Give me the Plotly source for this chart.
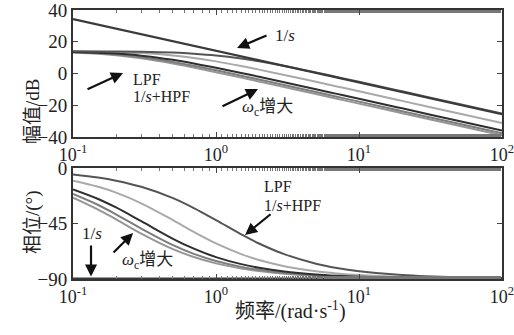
import plotly.graph_objects as go
from plotly.subplots import make_subplots

# Frequency samples (rad/s)
freq = [0.1, 0.15, 0.2, 0.3, 0.5, 0.7, 1, 1.5, 2, 3, 5, 7, 10, 20, 50, 100]

# Pure integrator 1/s
freq_int = [0.1, 1, 10, 100]
mag_int = [34.3, 14.3, -5.7, -25.7]
phase_int = [-90, -90, -90, -90]

# LPF (= 1/s + HPF) magnitude, dB, for increasing cut-off wc
mag_lpf_a = [13.94, 13.90, 13.84, 13.67, 13.16, 12.50, 11.37, 9.42, 7.64, 4.72, 0.62, -2.20, -5.24, -11.23, -19.17, -25.19]
mag_lpf_b = [13.84, 13.67, 13.44, 12.85, 11.37, 9.80, 7.64, 4.72, 2.45, -0.90, -5.24, -8.14, -11.23, -17.24, -25.19, -31.21]
mag_lpf_c = [13.58, 13.12, 12.55, 11.24, 8.61, 6.36, 3.66, 0.37, -2.05, -5.51, -9.91, -12.83, -15.92, -21.94, -29.90, -35.92]
mag_lpf_d = [13.38, 12.73, 11.96, 10.30, 7.26, 4.82, 2.00, -1.37, -3.81, -7.29, -11.71, -14.63, -17.72, -23.74, -31.70, -37.72]
mag_lpf_e = [13.20, 12.38, 11.45, 9.54, 6.24, 3.69, 0.81, -2.59, -5.05, -8.54, -12.96, -15.88, -18.98, -25.00, -32.96, -38.98]

# LPF phase, degrees
ph_lpf_a = [-5.19, -7.77, -10.30, -15.26, -24.44, -32.47, -42.27, -53.75, -61.19, -69.86, -77.59, -81.07, -83.72, -86.85, -88.74, -89.37]
ph_lpf_b = [-10.30, -15.26, -19.98, -28.61, -42.27, -51.84, -61.19, -69.86, -74.62, -79.61, -83.72, -85.51, -86.85, -88.42, -89.37, -89.68]
ph_lpf_c = [-17.35, -25.11, -32.01, -43.15, -57.38, -65.43, -72.26, -77.96, -80.91, -83.91, -86.34, -87.38, -88.17, -89.08, -89.63, -89.82]
ph_lpf_d = [-21.04, -29.98, -37.57, -49.09, -62.53, -69.62, -75.43, -80.17, -82.59, -85.05, -87.02, -87.87, -88.51, -89.26, -89.70, -89.85]
ph_lpf_e = [-23.96, -33.69, -41.63, -53.13, -65.77, -72.18, -77.32, -81.47, -83.58, -85.71, -87.42, -88.16, -88.71, -89.36, -89.74, -89.87]

# Tick labels
x_tickvals = [0.1, 1, 10, 100]
x_ticktext = ["10<sup>-1</sup>", "10<sup>0</sup>", "10<sup>1</sup>", "10<sup>2</sup>"]
mag_ticks = [-40, -20, 0, 20, 40]
mag_ticktext = ["\u221240", "\u221220", "0", "20", "40"]
ph_ticks = [-90, -45, 0]
ph_ticktext = ["\u221290", "\u221245", "0"]

lpf_colors = ["#555555", "#a9a9a9", "#2f2f2f", "#7d7d7d", "#969696"]
int_color = "#3a3a3a"

W, H = 514, 335
FONT = "Liberation Serif, Noto Sans CJK SC, serif"

fig = make_subplots(rows=2, cols=1)

mags = [mag_lpf_a, mag_lpf_b, mag_lpf_c, mag_lpf_d, mag_lpf_e]
phs = [ph_lpf_a, ph_lpf_b, ph_lpf_c, ph_lpf_d, ph_lpf_e]
# lighter curves first so the darker ones sit on top
order = [4, 3, 1, 2, 0]
for i in order:
    fig.add_trace(go.Scatter(x=freq, y=mags[i], mode="lines", line=dict(color=lpf_colors[i], width=2, shape="spline"),
                             showlegend=False, hoverinfo="skip"), row=1, col=1)
    fig.add_trace(go.Scatter(x=freq, y=phs[i], mode="lines", line=dict(color=lpf_colors[i], width=2, shape="spline"),
                             showlegend=False, hoverinfo="skip"), row=2, col=1)
fig.add_trace(go.Scatter(x=freq_int, y=mag_int, mode="lines", line=dict(color=int_color, width=2.2),
                         showlegend=False, hoverinfo="skip"), row=1, col=1)
fig.add_trace(go.Scatter(x=freq_int, y=phase_int, mode="lines", line=dict(color=int_color, width=3),
                         showlegend=False, hoverinfo="skip", cliponaxis=False), row=2, col=1)

x0, x1 = 73 / W, 502 / W
fig.update_xaxes(type="log", range=[-1, 2], tickvals=x_tickvals, ticktext=x_ticktext,
                 ticks="inside", ticklen=5, tickcolor="#444", showline=True, linecolor="#333", linewidth=2,
                 mirror="ticks", showgrid=False, zeroline=False, domain=[x0, x1], automargin=False,
                 ticklabeloverflow="allow",
                 tickfont=dict(family=FONT, size=18, color="#222"),
                 minor=dict(ticks="inside", ticklen=3, tickcolor="#777", showgrid=False))
fig.update_yaxes(showline=True, linecolor="#333", linewidth=2, mirror="ticks", ticks="inside", ticklen=5,
                 tickcolor="#444", showgrid=False, zeroline=False, automargin=False,
                 ticklabeloverflow="allow",
                 tickfont=dict(family=FONT, size=19, color="#222"))
fig.update_yaxes(range=[-40, 40], tickvals=mag_ticks, ticktext=mag_ticktext,
                 domain=[1 - 137 / H, 1 - 10 / H], row=1, col=1)
fig.update_yaxes(range=[-90, 0], tickvals=ph_ticks, ticktext=ph_ticktext,
                 domain=[1 - 279 / H, 1 - 168 / H], row=2, col=1)

arrow_kw = dict(showarrow=True, arrowhead=2, arrowsize=1.1, arrowwidth=2.2, arrowcolor="#111")


def note(text, x, y, row, size=17):
    xr = "x" if row == 1 else "x2"
    yr = "y" if row == 1 else "y2"
    fig.add_annotation(text=text, x=x, y=y, xref=xr, yref=yr, showarrow=False,
                       xanchor="left", yanchor="middle", font=dict(family=FONT, size=size, color="#222"))


def arrow(tail, head, row):
    xr = "x" if row == 1 else "x2"
    yr = "y" if row == 1 else "y2"
    fig.add_annotation(text="", x=head[0], y=head[1], ax=tail[0], ay=tail[1], xref=xr, yref=yr,
                       axref=xr, ayref=yr, **arrow_kw)


# magnitude panel notes
note("1/<i>s</i>", 0.40, 24.0, 1)
arrow((0.364, 24.3), (0.147, 16.1), 1)
note("LPF", -0.594, -3.5, 1, 16)
note("1/<i>s</i>+HPF", -0.594, -14.8, 1, 16)
arrow((-0.909, -10.4), (-0.650, 0.3), 1)
note("<i>\u03c9</i><sub>c</sub>\u589e\u5927", 0.168, -21.7, 1)
arrow((0.035, -21.1), (0.294, -9.8), 1)

# phase panel notes
note("LPF", 0.322, -14.8, 2, 16)
note("1/<i>s</i>+HPF", 0.322, -30.2, 2, 16)
arrow((0.392, -36.5), (0.203, -54.3), 2)
note("1/<i>s</i>", -0.951, -53.5, 2)
arrow((-0.874, -61.6), (-0.874, -88.0), 2)
note("<i>\u03c9</i><sub>c</sub>\u589e\u5927", -0.671, -75.4, 2)
arrow((-0.727, -69.7), (-0.580, -52.7), 2)

# axis titles
title_font = dict(family=FONT, size=19, color="#222")
fig.add_annotation(text="\u5e45\u503c/dB", x=20 / W, y=1 - 77 / H, xref="paper", yref="paper",
                   textangle=-90, showarrow=False, font=title_font)
fig.add_annotation(text="\u76f8\u4f4d/(\u00b0)", x=20 / W, y=1 - 222 / H, xref="paper", yref="paper",
                   textangle=-90, showarrow=False, font=title_font)
fig.add_annotation(text="\u9891\u7387/(rad\u00b7s<sup>-1</sup>)", x=290 / W, y=1 - 325 / H, xref="paper",
                   yref="paper", showarrow=False, font=dict(family=FONT, size=20, color="#222"))

fig.update_layout(width=W, height=H, margin=dict(l=0, r=0, t=0, b=0, autoexpand=False),
                  paper_bgcolor="white", plot_bgcolor="white", showlegend=False)

fig.write_html("out.html")
